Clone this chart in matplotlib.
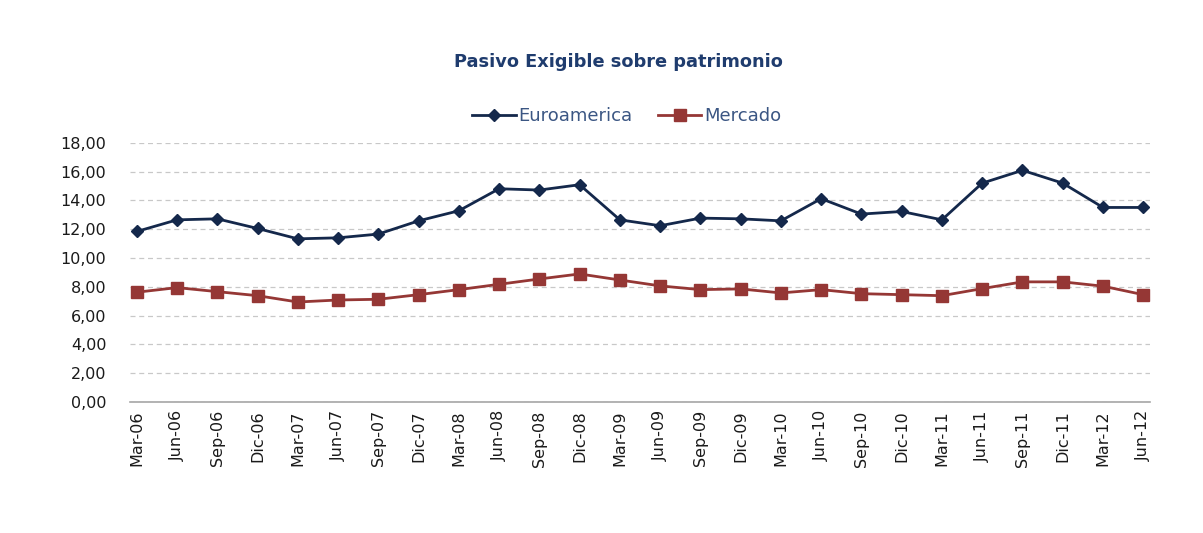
import numpy as np
import matplotlib
matplotlib.use("Agg")
import matplotlib.pyplot as plt
from matplotlib.ticker import FuncFormatter

# --- data ---
periods = ["Mar-06", "Jun-06", "Sep-06", "Dic-06", "Mar-07", "Jun-07", "Sep-07", "Dic-07",
           "Mar-08", "Jun-08", "Sep-08", "Dic-08", "Mar-09", "Jun-09", "Sep-09", "Dic-09",
           "Mar-10", "Jun-10", "Sep-10", "Dic-10", "Mar-11", "Jun-11", "Sep-11", "Dic-11",
           "Mar-12", "Jun-12"]
euroamerica = [11.84, 12.65, 12.72, 12.05, 11.33, 11.40, 11.66, 12.58,
               13.28, 14.81, 14.72, 15.09, 12.65, 12.24, 12.77, 12.72,
               12.58, 14.12, 13.05, 13.23, 12.65, 15.20, 16.09, 15.20,
               13.51, 13.51]
mercado = [7.62, 7.94, 7.66, 7.38, 6.94, 7.08, 7.13, 7.45,
           7.80, 8.17, 8.54, 8.89, 8.47, 8.06, 7.80, 7.85,
           7.57, 7.80, 7.52, 7.45, 7.38, 7.87, 8.34, 8.34,
           8.04, 7.45]
y_ticks = [0, 2, 4, 6, 8, 10, 12, 14, 16, 18]

plt.rcParams['font.family'] = ['DejaVu Sans']

fig = plt.figure(figsize=(12.03, 5.33), dpi=100)
ax = fig.add_axes([0.108, 0.246, 0.848, 0.486])

x = np.arange(len(periods))
ax.plot(x, euroamerica, color='#14284B', lw=2.0, marker='D', markersize=6.5,
        label='Euroamerica', zorder=3)
ax.plot(x, mercado, color='#953735', lw=2.0, marker='s', markersize=8.5,
        label='Mercado', zorder=3)

ax.set_xlim(-0.17, len(periods) - 1 + 0.17)
ax.set_ylim(0, 18)
ax.set_yticks(y_ticks)
ax.yaxis.set_major_formatter(FuncFormatter(lambda v, p: f"{v:.2f}".replace('.', ',')))
ax.set_xticks(x)
ax.set_xticklabels(periods, rotation=90)
ax.tick_params(axis='both', length=0, labelsize=11.5, colors='#1A1A1A')
ax.tick_params(axis='x', pad=6)
ax.tick_params(axis='y', pad=17)

ax.grid(axis='y', color='#C8C8C8', linestyle=(0, (4, 3)), lw=0.9)
ax.set_axisbelow(True)
for s in ['left', 'right', 'top']:
    ax.spines[s].set_visible(False)
ax.spines['bottom'].set_color('#A6A6A6')
ax.spines['bottom'].set_linewidth(1.2)

fig.text(0.514, 0.884, "Pasivo Exigible sobre patrimonio", ha='center', va='center',
         fontsize=12.8, fontweight='bold', color='#1F3C6E')

leg = ax.legend(loc='center', bbox_to_anchor=(0.487, 1.103), ncol=2, frameon=False,
                fontsize=13, handlelength=2.4, columnspacing=1.4, handletextpad=0.15)
for t in leg.get_texts():
    t.set_color('#3B5683')

fig.savefig("out.png", dpi=100, facecolor='white')
